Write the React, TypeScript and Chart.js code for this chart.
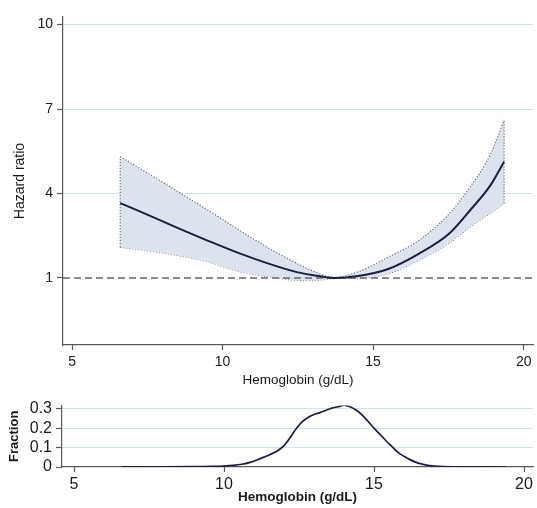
import React, { useEffect, useRef } from 'react';
import { Chart, registerables } from 'chart.js';

Chart.register(...registerables);

// ---- Data ----
const HR_X = [6.6, 7.5, 8.5, 9.5, 10.5, 11.5, 12.5, 13.0, 13.7, 14.5, 15.5, 16.5, 17.5, 18.2, 18.9, 19.35];
const HR_EST = [3.66, 3.25, 2.78, 2.33, 1.9, 1.52, 1.2, 1.1, 1.0, 1.07, 1.32, 1.85, 2.55, 3.38, 4.3, 5.13];
const HR_UPPER = [5.31, 4.73, 4.08, 3.42, 2.74, 2.08, 1.5, 1.25, 1.02, 1.22, 1.74, 2.32, 3.25, 4.2, 5.4, 6.61];
const HR_LOWER = [2.09, 1.97, 1.8, 1.58, 1.24, 1.05, 0.92, 0.91, 0.98, 0.99, 1.15, 1.62, 2.22, 2.8, 3.3, 3.65];
const HR_REF = 1;

const DIST_X = [6.6, 8.0, 9.0, 9.6, 10.0, 10.3, 10.6, 10.9, 11.2, 11.5, 11.8, 12.0, 12.2, 12.4, 12.6, 12.8, 13.0, 13.2, 13.4, 13.6, 13.8, 14.0, 14.2, 14.4, 14.6, 14.8, 15.0, 15.2, 15.4, 15.6, 15.8, 16.0, 16.2, 16.4, 16.6, 16.8, 17.0, 17.3, 17.7, 18.5, 19.4];
const DIST_FRAC = [0.001, 0.001, 0.002, 0.003, 0.005, 0.008, 0.014, 0.025, 0.043, 0.062, 0.085, 0.11, 0.15, 0.195, 0.232, 0.255, 0.27, 0.28, 0.292, 0.303, 0.31, 0.318, 0.31, 0.293, 0.268, 0.235, 0.2, 0.168, 0.135, 0.105, 0.075, 0.055, 0.038, 0.024, 0.015, 0.008, 0.005, 0.002, 0.001, 0.0005, 0];

const X_TICKS = [5, 10, 15, 20];
const HR_TICKS = [1, 4, 7, 10];
const FRAC_TICKS = [0, 0.1, 0.2, 0.3];
const FRAC_LABELS = ['0', '0.1', '0.2', '0.3'];

const X_TITLE = 'Hemoglobin (g/dL)';
const HR_TITLE = 'Hazard ratio';
const FRAC_TITLE = 'Fraction';

// ---- Styles ----
const FONT = '"Liberation Sans", Arial, Helvetica, sans-serif';
const GRID = '#cfe7eb';
const AXIS = '#5a5a5a';
const TEXT = '#1a1a1a';
const BAND = '#dce3ee';
const BAND_EDGE = '#6e6e6e';
const LINE = '#1b1f3d';

const pts = (xs: number[], ys: number[]) => xs.map((x, i) => ({ x, y: ys[i] }));
const setTicks = (vals: number[]) => (s: any) => {
  s.ticks = vals.map((v) => ({ value: v }));
};

function TopChart() {
  const ref = useRef<HTMLCanvasElement>(null);
  useEffect(() => {
    const X_MIN = 4.7;
    const X_MAX = 20.31;
    const n = HR_X.length - 1;
    const edgeStyle = {
      borderColor: BAND_EDGE,
      borderWidth: 1.2,
      borderDash: [1.2, 1.8],
      pointRadius: 0,
      fill: false,
      order: 2,
    };
    const chart = new Chart(ref.current!, {
      type: 'line',
      data: {
        datasets: [
          {
            label: 'upper',
            data: pts(HR_X, HR_UPPER),
            borderColor: BAND_EDGE,
            borderWidth: 1.2,
            borderDash: [1.2, 1.8],
            backgroundColor: BAND,
            fill: 1,
            pointRadius: 0,
            cubicInterpolationMode: 'monotone',
            order: 3,
          },
          {
            label: 'lower',
            data: pts(HR_X, HR_LOWER),
            borderColor: BAND_EDGE,
            borderWidth: 1.2,
            borderDash: [1.2, 1.8],
            fill: false,
            pointRadius: 0,
            cubicInterpolationMode: 'monotone',
            order: 3,
          },
          {
            label: 'edgeL',
            data: [
              { x: HR_X[0], y: HR_LOWER[0] },
              { x: HR_X[0], y: HR_UPPER[0] },
            ],
            ...edgeStyle,
          },
          {
            label: 'edgeR',
            data: [
              { x: HR_X[n], y: HR_LOWER[n] },
              { x: HR_X[n], y: HR_UPPER[n] },
            ],
            ...edgeStyle,
          },
          {
            label: 'ref',
            data: [
              { x: X_MIN, y: HR_REF },
              { x: X_MAX, y: HR_REF },
            ],
            borderColor: '#666666',
            borderWidth: 1.5,
            borderDash: [7, 4],
            pointRadius: 0,
            fill: false,
            order: 1,
          },
          {
            label: 'HR',
            data: pts(HR_X, HR_EST),
            borderColor: LINE,
            borderWidth: 2,
            pointRadius: 0,
            fill: false,
            cubicInterpolationMode: 'monotone',
            order: 0,
          },
        ],
      } as any,
      options: {
        animation: false,
        responsive: false,
        maintainAspectRatio: false,
        layout: { padding: { top: 17, right: 4, left: 0, bottom: 0 } },
        plugins: { legend: { display: false }, tooltip: { enabled: false } },
        scales: {
          x: {
            type: 'linear',
            min: X_MIN,
            max: X_MAX,
            afterBuildTicks: setTicks(X_TICKS),
            afterFit: (s: any) => {
              s.height = 47;
            },
            ticks: { font: { family: FONT, size: 14 }, color: TEXT, padding: 4, maxRotation: 0, autoSkip: false },
            grid: { drawOnChartArea: false, tickLength: 5, tickColor: AXIS, tickWidth: 1.2 },
            border: { color: AXIS, width: 1.2 },
            title: {
              display: true,
              text: X_TITLE,
              font: { family: FONT, size: 13.5 },
              color: TEXT,
              padding: { top: 0, bottom: 4 },
            },
          },
          y: {
            type: 'linear',
            min: -1.38,
            max: 10.27,
            afterBuildTicks: setTicks(HR_TICKS),
            afterFit: (s: any) => {
              s.width = 63;
            },
            ticks: { font: { family: FONT, size: 14 }, color: TEXT, padding: 4, autoSkip: false },
            grid: {
              color: (ctx: any) => (ctx.tick && ctx.tick.value === HR_REF ? 'rgba(0,0,0,0)' : GRID),
              lineWidth: 1,
              tickLength: 6,
              tickColor: AXIS,
              tickWidth: 1.2,
            },
            border: { color: AXIS, width: 1.2 },
            title: {
              display: true,
              text: HR_TITLE,
              font: { family: FONT, size: 14 },
              color: TEXT,
              padding: { top: 12, bottom: 0 },
            },
          },
        },
      } as any,
    });
    return () => chart.destroy();
  }, []);
  return (
    <canvas
      ref={ref}
      width={537}
      height={392}
      style={{ position: 'absolute', left: 0, top: 0, width: 537, height: 392, display: 'block' }}
    />
  );
}

function BottomChart() {
  const ref = useRef<HTMLCanvasElement>(null);
  useEffect(() => {
    const chart = new Chart(ref.current!, {
      type: 'line',
      data: {
        datasets: [
          {
            label: 'Fraction',
            data: pts(DIST_X, DIST_FRAC),
            borderColor: LINE,
            borderWidth: 1.7,
            pointRadius: 0,
            fill: false,
            cubicInterpolationMode: 'monotone',
          },
        ],
      } as any,
      options: {
        animation: false,
        responsive: false,
        maintainAspectRatio: false,
        layout: { padding: { top: 9, right: 4, left: 0, bottom: 0 } },
        plugins: { legend: { display: false }, tooltip: { enabled: false } },
        scales: {
          x: {
            type: 'linear',
            min: 4.6,
            max: 20.3,
            afterBuildTicks: setTicks(X_TICKS),
            afterFit: (s: any) => {
              s.height = 41;
            },
            ticks: { font: { family: FONT, size: 16 }, color: TEXT, padding: 3, maxRotation: 0, autoSkip: false },
            grid: { drawOnChartArea: false, tickLength: 5, tickColor: AXIS, tickWidth: 1.2 },
            border: { color: AXIS, width: 1.2 },
            title: {
              display: true,
              text: X_TITLE,
              font: { family: FONT, size: 13.5, weight: 'bold' },
              color: TEXT,
              padding: { top: 0, bottom: 3 },
            },
          },
          y: {
            type: 'linear',
            min: 0,
            max: 0.316,
            afterBuildTicks: setTicks(FRAC_TICKS),
            afterFit: (s: any) => {
              s.width = 62;
            },
            ticks: {
              font: { family: FONT, size: 16 },
              color: TEXT,
              padding: 4,
              autoSkip: false,
              callback: (v: any) => {
                const i = FRAC_TICKS.findIndex((t) => Math.abs(t - v) < 1e-9);
                return i >= 0 ? FRAC_LABELS[i] : '';
              },
            },
            grid: {
              color: (ctx: any) => (ctx.tick && ctx.tick.value === 0 ? 'rgba(0,0,0,0)' : GRID),
              lineWidth: 1,
              tickLength: 6,
              tickColor: AXIS,
              tickWidth: 1.2,
            },
            border: { color: AXIS, width: 1.2 },
            title: {
              display: true,
              text: FRAC_TITLE,
              font: { family: FONT, size: 13, weight: 'bold' },
              color: TEXT,
              padding: { top: 7, bottom: 0 },
            },
          },
        },
      } as any,
    });
    return () => chart.destroy();
  }, []);
  return (
    <canvas
      ref={ref}
      width={537}
      height={116}
      style={{ position: 'absolute', left: 0, top: 392, width: 537, height: 116, display: 'block' }}
    />
  );
}

export default function App() {
  return (
    <div style={{ position: 'fixed', left: 0, top: 0, width: 537, height: 508, background: '#ffffff', overflow: 'hidden' }}>
      <TopChart />
      <BottomChart />
    </div>
  );
}
